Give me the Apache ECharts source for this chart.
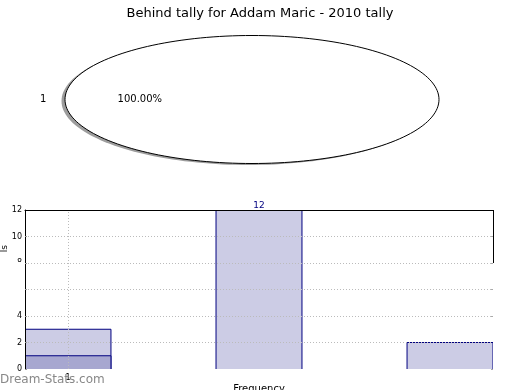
<!DOCTYPE html>
<html>
<head>
<meta charset="utf-8">
<script src="https://cdn.jsdelivr.net/npm/echarts@6/dist/echarts.min.js"></script>
<style>html,body{margin:0;padding:0;background:#fff}#c{width:520px;height:390px}</style>
</head>
<body>
<div id="c"></div>
<script>
// ---- data ----
var titleText = 'Behind tally for Addam Maric - 2010 tally';
var pieLabels = ['1'];
var pieValues = [1];
var barX = [1, 2, 3];
var barTotals = [3, 12, 2];
var barInner = [1, 0, 0];
var xTicks = [1];
var yTicks = [0, 2, 4, 6, 8, 10, 12];
var xName = 'Frequency';
var yName = 'Goals';

var FONT = 'DejaVu Sans';
var chart = echarts.init(document.getElementById('c'), null, {renderer: 'canvas'});

var pieTotal = pieValues.reduce(function (a, b) { return a + b; }, 0);
var PIE = {cx: 252, cy: 99.5, rx: 187, ry: 64};

function ellipsePts(a0, a1, full, dx, dy) {
  var pts = [];
  var n = 180;
  if (!full) pts.push([PIE.cx + dx, PIE.cy + dy]);
  for (var i = 0; i <= n; i++) {
    var a = a0 + (a1 - a0) * i / n;
    pts.push([PIE.cx + dx + PIE.rx * Math.cos(a), PIE.cy + dy - PIE.ry * Math.sin(a)]);
  }
  return pts;
}

function pieRender(params, api) {
  var idx = params.dataIndex;
  var before = 0;
  for (var i = 0; i < idx; i++) before += pieValues[i];
  var v = pieValues[idx];
  var a0 = before / pieTotal * 2 * Math.PI;
  var a1 = (before + v) / pieTotal * 2 * Math.PI;
  var full = (v / pieTotal) >= 0.9999;
  var mid = (a0 + a1) / 2;
  var lx = PIE.cx + 1.1 * PIE.rx * Math.cos(mid);
  var ly = PIE.cy - 1.1 * PIE.ry * Math.sin(mid);
  var px = PIE.cx + 0.6 * PIE.rx * Math.cos(mid);
  var py = PIE.cy - 0.6 * PIE.ry * Math.sin(mid);
  var pct = (v / pieTotal * 100).toFixed(2) + '%';
  return {
    type: 'group',
    children: [
      {type: 'polygon', shape: {points: ellipsePts(a0, a1, full, -3.5, 1.5)},
       style: {fill: '#9d9d9d', stroke: null}, z2: 1},
      {type: 'polygon', shape: {points: ellipsePts(a0, a1, full, 0, 0)},
       style: {fill: '#ffffff', stroke: '#000000', lineWidth: 1}, z2: 2},
      {type: 'text', x: lx, y: ly,
       style: {text: pieLabels[idx], fill: '#000', font: '10px "DejaVu Sans"',
               align: Math.cos(mid) < 0 ? 'right' : 'left', verticalAlign: 'middle'}, z2: 3},
      {type: 'text', x: px, y: py,
       style: {text: pct, fill: '#000', font: '10px "DejaVu Sans"',
               align: 'center', verticalAlign: 'middle'}, z2: 3}
    ]
  };
}

var BAR_W = 0.45;
function barRenderFactory(fill) {
  return function (params, api) {
    var x = api.value(0), v = api.value(1);
    if (!v) return null;
    var tl = api.coord([x - BAR_W / 2, v]);
    var br = api.coord([x + BAR_W / 2, 0]);
    return {
      type: 'group',
      children: [
        {type: 'rect', shape: {x: tl[0], y: tl[1], width: br[0] - tl[0], height: br[1] - tl[1]},
         style: {fill: fill, stroke: null}},
        {type: 'polyline', shape: {points: [[tl[0], br[1]], [tl[0], tl[1]], [br[0], tl[1]], [br[0], br[1]]]},
         style: {fill: null, stroke: '#000080', lineWidth: 1}}
      ]
    };
  };
}

var maxVal = Math.max.apply(null, barTotals);
var gridLine = {color: '#bbbbbb', type: [1, 2], width: 1};

var option = {
  animation: false,
  backgroundColor: '#ffffff',
  title: {
    text: titleText, left: 'center', top: 2,
    textStyle: {fontFamily: FONT, fontSize: 13, fontWeight: 'normal', color: '#000'}
  },
  grid: {left: 25, right: 27, top: 210, bottom: 21, containLabel: false, outerBoundsMode: 'none'},
  xAxis: [{
    type: 'value', min: 0.775, max: 3.225,
    name: xName, nameLocation: 'middle', nameGap: 15,
    nameTextStyle: {fontFamily: FONT, fontSize: 10, color: '#000', verticalAlign: 'top'},
    axisLine: {show: false, onZero: false},
    axisTick: {show: true, inside: true, length: 3, lineStyle: {color: '#999'}, customValues: xTicks},
    axisLabel: {show: true, fontFamily: FONT, fontSize: 8, color: '#000', margin: 5, customValues: xTicks},
    splitLine: {show: false}
  }, {
    type: 'value', position: 'top', min: 0.775, max: 3.225, z: 6,
    axisLine: {show: true, onZero: false, lineStyle: {color: '#000', width: 1}},
    axisTick: {show: false}, axisLabel: {show: false}, splitLine: {show: false}
  }],
  yAxis: [{
    type: 'value', min: yTicks[0], max: yTicks[yTicks.length - 1], interval: yTicks[1] - yTicks[0],
    z: 5,
    axisLine: {show: true, onZero: false, lineStyle: {color: '#000', width: 1}},
    axisTick: {show: true, inside: true, length: 2, lineStyle: {color: '#999'}},
    axisLabel: {fontFamily: FONT, fontSize: 8, color: '#000', margin: 3},
    splitLine: {show: true, showMinLine: false, showMaxLine: false, lineStyle: gridLine}
  }, {
    type: 'value', position: 'right', min: yTicks[0], max: yTicks[yTicks.length - 1], interval: yTicks[1] - yTicks[0],
    axisLine: {show: false, onZero: false},
    axisTick: {show: true, inside: true, length: 2, lineStyle: {color: '#aaa'}},
    axisLabel: {show: false}, splitLine: {show: false}
  }],
  series: [
    {
      type: 'custom', coordinateSystem: 'none', renderItem: pieRender,
      data: pieValues.map(function (v, i) { return [i, v]; }), silent: true
    },
    {
      type: 'custom', xAxisIndex: 0, yAxisIndex: 0, z: 2, clip: true,
      renderItem: barRenderFactory('#ccccE5'),
      data: barX.map(function (x, i) { return [x, barTotals[i]]; }),
      markLine: {
        silent: true, symbol: ['none', 'none'], label: {show: false}, animation: false, z: 10,
        data: [
          [{coord: [xTicks[0], yTicks[0]], lineStyle: gridLine},
           {coord: [xTicks[0], yTicks[yTicks.length - 1]]}],
          [{coord: [3.225, 8], lineStyle: {color: '#000', type: 'solid', width: 1}},
           {coord: [3.225, yTicks[yTicks.length - 1]]}]
        ]
      },
      markPoint: {
        silent: true, symbol: 'rect', symbolSize: 0,
        label: {show: true, position: 'top', distance: 0, color: '#000080', fontFamily: FONT, fontSize: 9,
                formatter: function (p) { return String(p.value); }},
        data: [{coord: [barX[barTotals.indexOf(maxVal)], maxVal], value: maxVal}]
      }
    },
    {
      type: 'custom', xAxisIndex: 0, yAxisIndex: 0, z: 3, clip: true,
      renderItem: barRenderFactory('#a7a7d0'),
      data: barX.map(function (x, i) { return [x, barInner[i]]; })
    }
  ],
  graphic: [
    {type: 'text', x: 5, y: 245, rotation: Math.PI / 2, z: 50,
     style: {text: yName, fill: '#000', font: '9px "DejaVu Sans"', align: 'right', verticalAlign: 'middle'}},
    {type: 'rect', shape: {x: 0, y: 253, width: 10, height: 57}, style: {fill: '#fff'}, z: 60},
    {type: 'rect', shape: {x: 10, y: 262, width: 14, height: 44}, style: {fill: '#fff'}, z: 60},
    {type: 'text', x: 0, y: 374, z: 70,
     style: {text: 'Dream-Stats.com', fill: '#888888', font: '12px "DejaVu Sans"'}}
  ]
};
chart.setOption(option);
</script>
</body>
</html>
